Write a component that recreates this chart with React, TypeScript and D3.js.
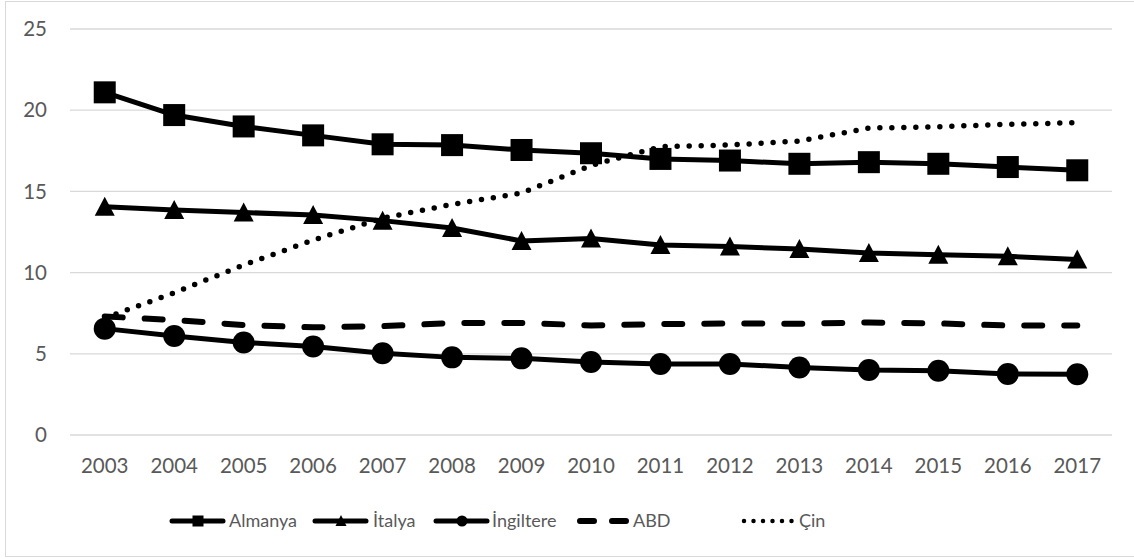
import React from "react";
import * as d3 from "d3";

const years = ["2003","2004","2005","2006","2007","2008","2009","2010","2011","2012","2013","2014","2015","2016","2017"];
const almanya = [21.1,19.7,19.0,18.45,17.9,17.85,17.55,17.35,17.0,16.9,16.7,16.8,16.7,16.5,16.3];
const italya = [14.05,13.85,13.7,13.55,13.2,12.75,11.95,12.1,11.7,11.6,11.45,11.2,11.1,11.0,10.8];
const ingiltere = [6.55,6.1,5.7,5.45,5.03,4.78,4.72,4.5,4.37,4.37,4.16,4.0,3.96,3.76,3.74];
const abd = [7.3,7.08,6.77,6.63,6.7,6.9,6.9,6.75,6.83,6.87,6.85,6.93,6.87,6.74,6.74];
const cin = [7.2,8.76,10.47,12.0,13.35,14.2,14.9,16.6,17.75,17.86,18.1,18.9,18.98,19.13,19.23];
const yTicks = [0,5,10,15,20,25];

const W = 1134, H = 559;
const FONT = "Lato, 'Open Sans', sans-serif";
const TXT = "#595959";

type Marker = "square" | "triangle" | "circle" | "none";
interface S { name: string; values: number[]; marker: Marker; dash?: string; }
const series: S[] = [
  { name: "Almanya", values: almanya, marker: "square" },
  { name: "İtalya", values: italya, marker: "triangle" },
  { name: "İngiltere", values: ingiltere, marker: "circle" },
  { name: "ABD", values: abd, marker: "none", dash: "dash" },
  { name: "Çin", values: cin, marker: "none", dash: "dot" },
];

function markerEl(m: Marker, cx: number, cy: number, size: number, key?: string) {
  if (m === "square") return <rect key={key} x={cx - size / 2} y={cy - size / 2} width={size} height={size} fill="#000" />;
  if (m === "circle") return <circle key={key} cx={cx} cy={cy} r={size / 2} fill="#000" />;
  if (m === "triangle") {
    const w = size, h = size * 0.9;
    return <path key={key} d={`M${cx},${cy - h / 2 - 1}L${cx + w / 2},${cy + h / 2}L${cx - w / 2},${cy + h / 2}Z`} fill="#000" />;
  }
  return null;
}

function dashProps(d?: string) {
  if (d === "dash") return { strokeDasharray: "18 22", strokeLinecap: "round" as const, strokeWidth: 6 };
  if (d === "dot") return { strokeDasharray: "0 12", strokeLinecap: "round" as const, strokeWidth: 5.5 };
  return { strokeWidth: 5, strokeLinecap: "butt" as const };
}

export default function App() {
  const left = 70, right = 1112, top = 29, bottom = 435;
  const x = d3.scaleBand<string>().domain(years).range([left, right]);
  const xc = (yr: string) => (x(yr) as number) + x.bandwidth() / 2;
  const y = d3.scaleLinear().domain([0, 25]).range([bottom, top]);
  const line = d3.line<number>().x((_, i) => xc(years[i])).y((v) => y(v));

  const legendItems = [
    { s: series[0], x0: 172, tx: 229 },
    { s: series[1], x0: 315, tx: 373 },
    { s: series[2], x0: 436, tx: 492 },
    { s: series[3], x0: 577, tx: 633 },
    { s: series[4], x0: 741, tx: 799 },
  ];
  const ly = 521;

  return (
    <svg width={W} height={H} style={{ position: "absolute", left: 0, top: 0, background: "#fff" }} fontFamily={FONT}>
      <rect x={0} y={0} width={W} height={H} fill="#fff" />
      <rect x={5.5} y={1.5} width={W + 20} height={555} fill="none" stroke="#d9d9d9" strokeWidth={1} />
      {yTicks.map((t) => (
        <g key={t}>
          <line x1={left} x2={right} y1={y(t)} y2={y(t)} stroke="#d9d9d9" strokeWidth={1.3} />
          <text x={47} y={y(t)} dy="0.35em" textAnchor="end" fontSize={20.5} fill={TXT}>{t}</text>
        </g>
      ))}
      {years.map((yr) => (
        <text key={yr} x={xc(yr)} y={466} dy="0.35em" textAnchor="middle" fontSize={20.5} fill={TXT}>{yr}</text>
      ))}
      {series.map((s) => (
        <g key={s.name}>
          <path d={line(s.values) || ""} fill="none" stroke="#000" strokeLinejoin="round" {...dashProps(s.dash)} />
          {s.values.map((v, i) => markerEl(s.marker, xc(years[i]), y(v), s.marker === "triangle" ? 20 : 22, s.name + i))}
        </g>
      ))}
      {legendItems.map(({ s, x0, tx }) => (
        <g key={s.name}>
          {s.dash === "dash" ? (
            <line x1={x0 + 3} x2={x0 + 50} y1={ly} y2={ly} stroke="#000" strokeDasharray="14 18" strokeLinecap="round" strokeWidth={6} />
          ) : s.dash === "dot" ? (
            <line x1={x0 + 3} x2={x0 + 52} y1={ly} y2={ly} stroke="#000" strokeDasharray="0 9.5" strokeLinecap="round" strokeWidth={4.5} />
          ) : (
            <line x1={x0} x2={x0 + 51} y1={ly} y2={ly} stroke="#000" strokeWidth={5} strokeLinecap="round" />
          )}
          {markerEl(s.marker, x0 + 26, ly, 11)}
          <text x={tx} y={ly} dy="0.35em" fontSize={18} fill={TXT}>{s.name}</text>
        </g>
      ))}
    </svg>
  );
}
